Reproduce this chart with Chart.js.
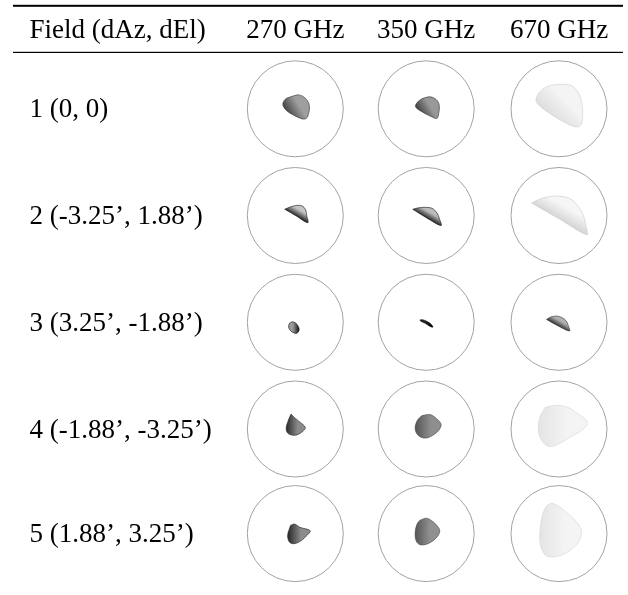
<!DOCTYPE html>
<html>
<head>
<meta charset="utf-8">
<script src="https://cdn.jsdelivr.net/npm/chart.js@4/dist/chart.umd.min.js"></script>
<style>
  html, body { margin: 0; padding: 0; background: #fff; }
  canvas { display: block; }
</style>
</head>
<body>
<canvas id="spots" width="628" height="595"></canvas>
<script>
// Table header and row labels
const headerLabel = 'Field (dAz, dEl)';
const frequencies = ['270 GHz', '350 GHz', '670 GHz'];
const fieldLabels = [
  '1 (0, 0)',
  '2 (-3.25\u2019, 1.88\u2019)',
  '3 (3.25\u2019, -1.88\u2019)',
  '4 (-1.88\u2019, -3.25\u2019)',
  '5 (1.88\u2019, 3.25\u2019)'
];

// Spot outlines: [dx, dy] in units of the reference circle radius (x right, y up)
const field1_270 = [[-0.10,0.25],[0.07,0.29],[0.21,0.22],[0.29,0.08],[0.28,-0.09],[0.23,-0.20],[0.14,-0.21],[-0.04,-0.13],[-0.19,-0.03],[-0.26,0.09],[-0.21,0.20]];
const field1_350 = [[-0.09,0.21],[0.08,0.25],[0.21,0.19],[0.27,0.08],[0.26,-0.10],[0.22,-0.20],[0.08,-0.15],[-0.09,-0.06],[-0.22,0.04],[-0.19,0.13]];
const field1_670 = [[-0.43,0.32],[-0.26,0.46],[0.09,0.51],[0.30,0.46],[0.44,0.25],[0.49,-0.03],[0.47,-0.31],[0.37,-0.38],[0.09,-0.27],[-0.19,-0.10],[-0.40,0.06],[-0.48,0.18]];

const field2_270 = [[-0.22,0.13],[-0.10,0.18],[0.03,0.21],[0.14,0.20],[0.21,0.13],[0.24,-0.01],[0.26,-0.15],[0.02,-0.01]];
const field2_350 = [[-0.28,0.13],[-0.16,0.16],[-0.02,0.17],[0.12,0.15],[0.22,0.06],[0.28,-0.08],[0.31,-0.21],[0.01,-0.05]];
const field2_670 = [[-0.57,0.26],[-0.43,0.33],[-0.22,0.39],[0.02,0.40],[0.23,0.35],[0.40,0.19],[0.51,-0.01],[0.56,-0.22],[0.58,-0.40],[0.02,-0.08]];

const field3_270 = [[-0.12,-0.02],[-0.07,0.01],[0.00,-0.01],[0.06,-0.08],[0.08,-0.16],[0.03,-0.23],[-0.05,-0.21],[-0.12,-0.15],[-0.14,-0.08]];
const field3_350 = [[-0.13,0.05],[-0.06,0.05],[0.05,0.00],[0.12,-0.06],[0.14,-0.10],[0.07,-0.08],[-0.02,-0.02],[-0.11,0.02]];
const field3_670 = [[-0.26,0.06],[-0.17,0.11],[-0.05,0.13],[0.06,0.10],[0.15,0.03],[0.19,-0.06],[0.22,-0.18],[-0.01,-0.08]];

const field4_270 = [[-0.09,0.31],[-0.02,0.24],[0.10,0.14],[0.21,0.03],[0.14,-0.06],[0.00,-0.13],[-0.14,-0.10],[-0.19,-0.01],[-0.16,0.14]];
const field4_350 = [[-0.09,0.28],[0.08,0.30],[0.21,0.22],[0.31,0.10],[0.26,-0.03],[0.12,-0.14],[-0.02,-0.19],[-0.16,-0.14],[-0.23,0.00],[-0.19,0.17]];
const field4_670 = [[-0.29,0.45],[-0.05,0.49],[0.19,0.45],[0.40,0.31],[0.59,0.15],[0.51,0.00],[0.23,-0.17],[-0.05,-0.33],[-0.22,-0.36],[-0.36,-0.24],[-0.43,-0.03],[-0.40,0.24]];

const field5_270 = [[-0.10,0.17],[-0.02,0.20],[0.10,0.13],[0.31,0.06],[0.24,-0.04],[0.12,-0.15],[-0.02,-0.21],[-0.12,-0.18],[-0.16,-0.04]];
const field5_350 = [[-0.13,0.28],[0.01,0.32],[0.15,0.24],[0.26,0.12],[0.28,0.03],[0.19,-0.11],[0.01,-0.22],[-0.13,-0.23],[-0.21,-0.15],[-0.23,0.03],[-0.19,0.20]];
const field5_670 = [[-0.26,0.58],[-0.15,0.63],[0.02,0.55],[0.23,0.38],[0.40,0.20],[0.47,0.03],[0.40,-0.18],[0.23,-0.35],[0.02,-0.46],[-0.22,-0.48],[-0.33,-0.39],[-0.40,-0.15],[-0.38,0.20],[-0.33,0.44]];

const spotGrid = [
  [field1_270, field1_350, field1_670],
  [field2_270, field2_350, field2_670],
  [field3_270, field3_350, field3_670],
  [field4_270, field4_350, field4_670],
  [field5_270, field5_350, field5_670]
];

// Shading of each spot: [light tone, dark tone, edge, direction of the dark side in degrees (screen, y down)]
const spotShade = [
  [['#9e9e9e', '#484848', '#333333', 150], ['#989898', '#404040', '#2a2a2a', 150], ['#f4f4f4', '#dedede', '#cccccc', 135]],
  [['#c4c4c4', '#2a2a2a', '#111111', 120], ['#bcbcbc', '#2a2a2a', '#111111', 120], ['#f6f6f6', '#d6d6d6', '#c8c8c8', 120]],
  [['#9a9a9a', '#111111', '#111111', 0],   ['#262626', '#000000', '#000000', 0],   ['#b0b0b0', '#333333', '#333333', 120]],
  [['#8a8a8a', '#2a2a2a', '#222222', 180], ['#8e8e8e', '#555555', '#444444', 180], ['#f4f4f4', '#e4e4e4', '#d4d4d4', 180]],
  [['#8c8c8c', '#262626', '#222222', 180], ['#909090', '#555555', '#444444', 180], ['#f4f4f4', '#e4e4e4', '#d4d4d4', 180]]
];

// Page layout (pixels)
const W = 628, H = 595;
const colX = [295.3, 426.2, 559.0];
const rowY = [108.8, 215.5, 322.3, 429.0, 533.6];
const circleR = 48;
const FONT = '27px "Liberation Serif", "Times New Roman", serif';

const circles = [];
rowY.forEach(y => colX.forEach(x => circles.push({ x, y })));

const datasets = [{
  label: 'circles',
  data: circles,
  showLine: false,
  clip: false,
  pointStyle: 'circle',
  pointRadius: circleR,
  pointHoverRadius: circleR,
  pointBorderWidth: 1,
  pointBorderColor: '#a2a2a2',
  pointBackgroundColor: 'rgba(0,0,0,0)'
}];

// Linear gradient across a spot, from its light side to its dark side
function spotFill(r, c) {
  const [light, dark, , angle] = spotShade[r][c];
  return (context) => {
    const chart = context.chart;
    const xs = chart.scales.x, ys = chart.scales.y;
    if (!chart.chartArea || !xs || !ys) return light;
    const a = angle * Math.PI / 180;
    const ux = Math.cos(a), uy = Math.sin(a);
    const px = spotGrid[r][c].map(([dx, dy]) => [
      xs.getPixelForValue(colX[c] + dx * circleR),
      ys.getPixelForValue(rowY[r] - dy * circleR)
    ]);
    const proj = px.map(([x, y]) => x * ux + y * uy);
    const lo = Math.min(...proj), hi = Math.max(...proj);
    const mx = px.reduce((s, p) => s + p[0], 0) / px.length;
    const my = px.reduce((s, p) => s + p[1], 0) / px.length;
    const m = mx * ux + my * uy;
    const g = chart.ctx.createLinearGradient(
      mx + (lo - m) * ux, my + (lo - m) * uy,
      mx + (hi - m) * ux, my + (hi - m) * uy);
    g.addColorStop(0, light);
    g.addColorStop(0.4, light);
    g.addColorStop(1, dark);
    return g;
  };
}

spotGrid.forEach((row, r) => {
  row.forEach((outline, c) => {
    const pts = outline.map(([dx, dy]) => ({ x: colX[c] + dx * circleR, y: rowY[r] - dy * circleR }));
    pts.push(pts[0]);
    datasets.push({
      label: fieldLabels[r] + ' ' + frequencies[c],
      data: pts,
      showLine: true,
      clip: false,
      tension: 0.35,
      fill: 'shape',
      backgroundColor: spotFill(r, c),
      borderColor: spotShade[r][c][2],
      borderWidth: 0.6,
      pointRadius: 0
    });
  });
});

// Booktabs-style rules and the table text
const tablePlugin = {
  id: 'tableText',
  afterDatasetsDraw(chart) {
    const ctx = chart.ctx;
    ctx.save();
    ctx.fillStyle = '#000';
    ctx.fillRect(13, 4.8, 610, 2);
    ctx.fillRect(13, 51.8, 610, 1.2);
    ctx.font = FONT;
    ctx.textBaseline = 'alphabetic';
    ctx.textAlign = 'left';
    ctx.fillText(headerLabel, 29.5, 37.5);
    ctx.textAlign = 'center';
    frequencies.forEach((f, i) => ctx.fillText(f, colX[i], 37.5));
    ctx.textAlign = 'left';
    fieldLabels.forEach((t, i) => ctx.fillText(t, 29.5, rowY[i] + 8.5));
    ctx.restore();
  }
};

new Chart(document.getElementById('spots'), {
  type: 'scatter',
  data: { datasets },
  options: {
    responsive: false,
    animation: false,
    devicePixelRatio: 1,
    events: [],
    layout: { padding: 0, autoPadding: false },
    plugins: { legend: { display: false }, tooltip: { enabled: false } },
    scales: {
      x: { type: 'linear', min: 0, max: W, display: false },
      y: { type: 'linear', min: 0, max: H, reverse: true, display: false }
    }
  },
  plugins: [tablePlugin]
});
</script>
</body>
</html>
